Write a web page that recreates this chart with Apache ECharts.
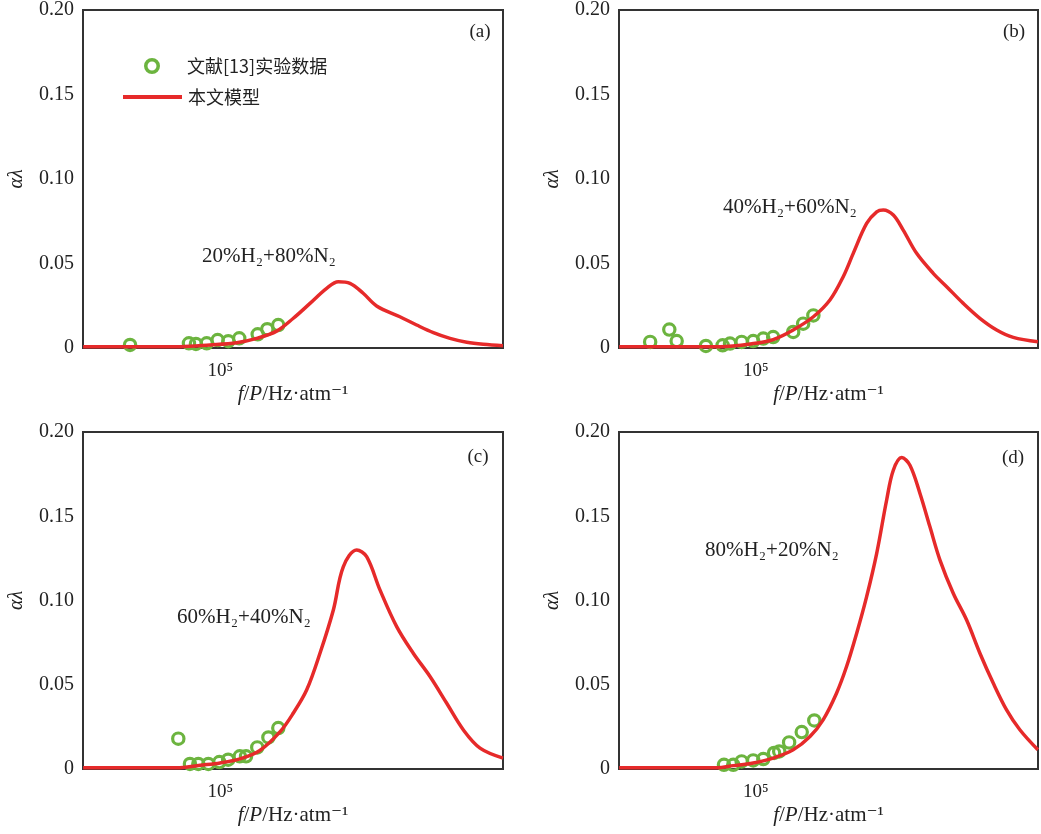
<!DOCTYPE html>
<html>
<head>
<meta charset="utf-8">
<script src="https://cdn.jsdelivr.net/npm/echarts@6/dist/echarts.min.js"></script>
<style>html,body{margin:0;padding:0;background:#fff}#c{width:1041px;height:834px}</style>
</head>
<body>
<div id="c"></div>
<script>
// ---- Data (f/P in Hz·atm^-1, alpha*lambda) ----
const panelLabels = ['(a)', '(b)', '(c)', '(d)'];
const mixLabels = ['20%H₂+80%N₂', '40%H₂+60%N₂', '60%H₂+40%N₂', '80%H₂+20%N₂'];
const yTicks = [0, 0.05, 0.10, 0.15, 0.20];
const xTickLabel = '10⁵';

// Panel (a)
const expA_f = [22700, 59800, 67100, 80100, 95900, 114300, 136800, 185300, 216900, 259800];
const expA_y = [0.0018, 0.0028, 0.0024, 0.0028, 0.0047, 0.0040, 0.0057, 0.0081, 0.0111, 0.0136];
const modA_f = [10500, 51600, 84500, 131000, 182000, 253000, 333000, 438000, 576000, 698000, 845000, 1050000, 1310000, 1920000, 2530000, 3330000, 4380000, 5770000, 7570000, 10470000];
const modA_y = [0.0008, 0.0008, 0.0018, 0.0031, 0.0057, 0.0100, 0.0176, 0.0264, 0.0353, 0.0392, 0.0383, 0.0324, 0.0249, 0.0185, 0.0136, 0.0091, 0.0057, 0.0034, 0.0022, 0.0014];

// Panel (b)
const expB_f = [17500, 24000, 27100, 43900, 57800, 65300, 79100, 95700, 113000, 133000, 185000, 218000, 258000];
const expB_y = [0.0036, 0.0109, 0.0041, 0.0012, 0.0016, 0.0026, 0.0036, 0.0041, 0.0056, 0.0065, 0.0095, 0.0144, 0.0193];
const modB_f = [10500, 55300, 95700, 133000, 185000, 258000, 339000, 422000, 498000, 621000, 733000, 817000, 964000, 1135000, 1416000, 1862000, 2323000, 3055000, 4018000, 5297000, 6966000, 10450000];
const modB_y = [0.0008, 0.0008, 0.0026, 0.0050, 0.0107, 0.0185, 0.0284, 0.0422, 0.0560, 0.0737, 0.0806, 0.0817, 0.0787, 0.0698, 0.0560, 0.0442, 0.0363, 0.0264, 0.0176, 0.0107, 0.0063, 0.0037];

// Panel (c)
const expC_f = [50200, 60800, 69800, 82300, 98600, 114000, 138000, 153000, 184000, 221000, 260000];
const expC_y = [0.0180, 0.0030, 0.0030, 0.0030, 0.0041, 0.0055, 0.0075, 0.0075, 0.0128, 0.0187, 0.0243];
const modC_f = [10500, 51600, 71800, 99800, 138000, 192000, 267000, 333000, 415000, 516000, 643000, 757000, 944000, 1112000, 1384000, 1822000, 2393000, 3152000, 4150000, 5445000, 7178000, 10470000];
const modC_y = [0.0008, 0.0008, 0.0022, 0.0036, 0.0060, 0.0110, 0.0220, 0.0332, 0.0470, 0.0687, 0.0944, 0.1200, 0.1300, 0.1260, 0.1063, 0.0845, 0.0687, 0.0549, 0.0390, 0.0233, 0.0124, 0.0065];

// Panel (d)
const expD_f = [59100, 68900, 79100, 95700, 113000, 135000, 147000, 173000, 213000, 262000];
const expD_y = [0.0025, 0.0025, 0.0045, 0.0051, 0.0059, 0.0095, 0.0104, 0.0158, 0.0219, 0.0288];
const modD_f = [10500, 52400, 68900, 95700, 133000, 185000, 244000, 303000, 378000, 446000, 527000, 621000, 733000, 863000, 964000, 1107000, 1268000, 1496000, 1763000, 2080000, 2588000, 3228000, 4018000, 5003000, 6237000, 7762000, 10450000];
const modD_y = [0.0008, 0.0008, 0.0020, 0.0036, 0.0065, 0.0114, 0.0193, 0.0292, 0.0450, 0.0608, 0.0806, 0.1023, 0.1280, 0.1595, 0.1773, 0.1848, 0.1803, 0.1635, 0.1437, 0.1240, 0.1043, 0.0884, 0.0687, 0.0510, 0.0351, 0.0233, 0.0114];

const expF = [expA_f, expB_f, expC_f, expD_f];
const expY = [expA_y, expB_y, expC_y, expD_y];
const modF = [modA_f, modB_f, modC_f, modD_f];
const modY = [modA_y, modB_y, modC_y, modD_y];

const EXP_NAME = '文献[13]实验数据';
const MOD_NAME = '本文模型';
const GREEN = '#6cb43f';
const RED = '#e62a2a';
const SERIF = '"Liberation Serif", "DejaVu Serif", serif';
const CJK = '"Noto Sans CJK SC", sans-serif';
// hollow ring marker (outer r=10, inner r=5.6)
const RING = 'path://M0,-10A10,10,0,1,1,0,10A10,10,0,1,1,0,-10ZM0,-5.6A5.6,5.6,0,1,0,0,5.6A5.6,5.6,0,1,0,0,-5.6Z';

const pair = (xs, ys) => xs.map((x, i) => [x, ys[i]]);

const grids = [
  {left: 83, top: 10, width: 420, height: 338},
  {left: 619, top: 10, width: 419, height: 338},
  {left: 83, top: 432, width: 420, height: 337},
  {left: 619, top: 432, width: 419, height: 337}
];

const option = {
  animation: false,
  backgroundColor: '#fff',
  grid: grids.map(g => Object.assign({show: true, borderColor: '#333', borderWidth: 2, backgroundColor: 'transparent'}, g)),
  xAxis: grids.map((g, i) => ({
    type: 'log', gridIndex: i,
    min: Math.pow(10, 4.02), max: Math.pow(10, 7.02),
    axisLine: {show: false}, axisTick: {show: false}, splitLine: {show: false}, minorTick: {show: false},
    axisLabel: {
      margin: 14, fontFamily: SERIF, fontSize: 19, color: '#222', showMinLabel: true, showMaxLabel: true,
      formatter: v => (Math.abs(Math.log10(v) - 5) < 1e-3 ? xTickLabel : '')
    },
    name: '{i|f}/{i|P}/Hz·atm⁻¹', nameLocation: 'middle', nameGap: 36,
    nameTextStyle: {fontFamily: SERIF, fontSize: 21, color: '#222', rich: {i: {fontFamily: SERIF, fontSize: 21, fontStyle: 'italic', color: '#222'}}}
  })),
  yAxis: grids.map((g, i) => ({
    type: 'value', gridIndex: i, min: 0, max: 0.2, interval: 0.05,
    axisLine: {show: false}, axisTick: {show: false}, splitLine: {show: false},
    axisLabel: {margin: 9, fontFamily: SERIF, fontSize: 20, color: '#222',
      formatter: v => (v === 0 ? '0' : v.toFixed(2))},
    name: 'αλ', nameLocation: 'middle', nameGap: 56, nameRotate: 90,
    nameTextStyle: {fontFamily: SERIF, fontSize: 20, fontStyle: 'italic', color: '#222'}
  })),
  legend: [
    {data: [{name: EXP_NAME, icon: RING}], left: 144, top: 56, padding: 0, itemWidth: 16, itemHeight: 16, itemGap: 0,
     itemStyle: {color: GREEN, borderWidth: 0},
     textStyle: {fontFamily: CJK, fontSize: 18, color: '#222', lineHeight: 20, padding: [0, 0, 0, 22]}, selectedMode: false},
    {data: [{name: MOD_NAME, icon: 'rect'}], left: 123, top: 87, padding: 0, itemWidth: 59, itemHeight: 4, itemGap: 0,
     itemStyle: {color: RED, borderWidth: 0},
     textStyle: {fontFamily: CJK, fontSize: 18, color: '#222', lineHeight: 20, padding: [0, 0, 0, 1]}, selectedMode: false}
  ],
  graphic: [],
  series: []
};

const labelPos = [[480, 32], [1014, 32], [478, 457], [1013, 458]];
const mixPos = [[269, 256], [790, 207], [244, 617], [772, 550]];
for (let i = 0; i < 4; i++) {
  option.series.push({
    type: 'scatter', name: EXP_NAME, xAxisIndex: i, yAxisIndex: i, z: 2,
    symbol: RING, symbolSize: 14.5,
    itemStyle: {color: GREEN, borderWidth: 0, opacity: 1},
    data: pair(expF[i], expY[i])
  });
  option.series.push({
    type: 'line', name: MOD_NAME, xAxisIndex: i, yAxisIndex: i, z: 3,
    showSymbol: false, symbol: 'none', smooth: 0.35,
    lineStyle: {color: RED, width: 3.5}, itemStyle: {color: RED},
    data: pair(modF[i], modY[i])
  });
  option.graphic.push({type: 'text', x: labelPos[i][0], y: labelPos[i][1], z: 10,
    style: {text: panelLabels[i], fontFamily: SERIF, fontSize: 19, fill: '#222', align: 'center', verticalAlign: 'middle'}});
  option.graphic.push({type: 'text', x: mixPos[i][0], y: mixPos[i][1], z: 10,
    style: {text: mixLabels[i], fontFamily: SERIF, fontSize: 21, fill: '#222', align: 'center', verticalAlign: 'middle'}});
}

const chart = echarts.init(document.getElementById('c'), null, {renderer: 'canvas'});
chart.setOption(option);
</script>
</body>
</html>
